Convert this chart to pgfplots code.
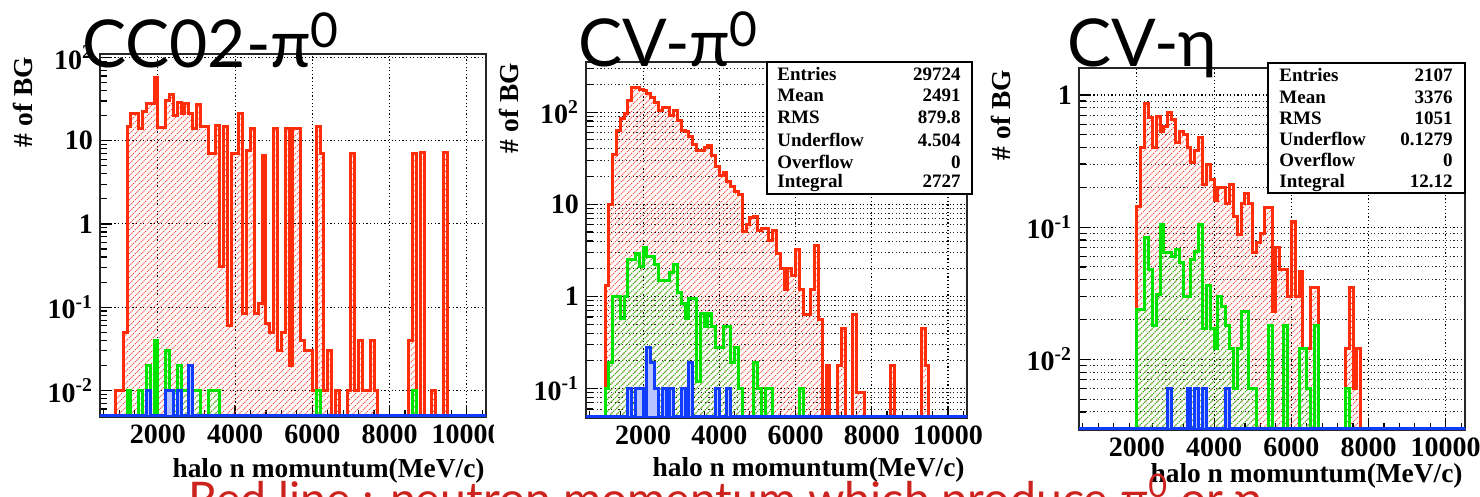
\documentclass[border=0pt]{standalone}
\usepackage{fontspec}
\setmainfont{Liberation Serif}
\newfontfamily\titlefont{Lato}
\usepackage{pgfplots}
\pgfplotsset{compat=1.18}
\usepackage{pgfplotstable}
\usetikzlibrary{patterns.meta}

\definecolor{hred}{RGB}{255,45,10}
\definecolor{hgreen}{RGB}{0,228,0}
\definecolor{hblue}{RGB}{15,60,255}
\definecolor{hatchred}{RGB}{255,70,50}
\definecolor{hatchgreen}{RGB}{20,205,20}
\definecolor{noteRed}{RGB}{205,35,30}

% thin dotted diagonal hatching used for the histogram fills
\tikzdeclarepattern{
  name=dothatch,
  type=uncolored,
  bounding box={(-0.2pt,-0.2pt) and (3.2pt,3.2pt)},
  tile size={(3pt,3pt)},
  code={\draw[line width=0.5pt, dash pattern=on 0.55pt off 0.6pt]
        (-0.2pt,-0.2pt) -- (3.2pt,3.2pt);}
}

% ---------- CC02 - pi0 (empty bins stored at the plot floor 0.005) ----------
\pgfplotstableread{
x y
800 0.005
900 0.01
1100 0.05
1200 15
1300 21
1500 14
1600 22.5
1700 28
1900 58
2000 14.4
2200 30
2300 35.5
2400 20
2500 29
2600 21
2700 28
2800 21
2900 14
3000 27
3100 15
3300 7.1
3500 15.2
3600 0.31
3700 15
3800 0.06
3900 7.1
4100 21
4200 0.083
4300 7.6
4400 14
4500 0.083
4600 0.11
4700 6.7
4800 0.063
4900 0.05
5000 14
5100 0.03
5200 0.05
5300 14
5400 0.02
5500 14
5700 0.04
5800 0.03
6000 0.01
6100 15
6200 7
6300 0.01
6400 0.03
6500 0.005
6600 0.01
6700 0.005
6900 0.01
7000 7
7100 0.01
7200 0.04
7300 0.01
7500 0.04
7600 0.01
7700 0.005
8500 0.04
8600 7
8700 0.005
8800 7.3
8900 0.005
9100 0.01
9200 0.005
9400 7.3
9500 0.005
9600 0.005
}\redA
\pgfplotstableread{
x y
1100 0.005
1200 0.01
1300 0.005
1500 0.01
1600 0.005
1700 0.02
1800 0.005
1900 0.04
2000 0.005
2200 0.03
2300 0.01
2500 0.02
2600 0.01
3100 0.005
3300 0.01
3600 0.005
6100 0.01
6200 0.005
8600 0.01
8700 0.005
8800 0.005
}\greenA
\pgfplotstableread{
x y
500 0.005
1700 0.01
1800 0.005
2200 0.01
2400 0.005
2500 0.01
2600 0.005
2800 0.02
2900 0.005
10500 0.005
}\blueA

% ---------- CV - pi0 (floor 0.05) ----------
\pgfplotstableread{
x y
900 0.05
1000 1.3
1100 10
1200 35
1300 63
1400 85
1500 96
1600 134
1700 187
1900 174
2000 170
2100 158
2200 145
2300 128
2400 104
2500 113
2700 92
2800 104
2900 81
3000 63
3100 62
3200 54
3300 45
3400 38
3600 41
3700 43.5
3800 34
3900 25.5
4000 20.3
4100 22
4200 17.5
4300 15.5
4400 13.7
4500 12.8
4600 5.1
4700 6.0
4800 7.2
4900 7.4
5000 5.2
5100 5.4
5300 4.0
5400 5.2
5500 2.9
5600 2.0
5700 1.2
5800 2.0
5900 1.7
6000 3.2
6100 1.2
6200 0.63
6400 1.2
6500 3.6
6600 0.56
6700 0.05
6800 0.18
6900 0.05
7100 0.18
7200 0.45
7300 0.05
7500 0.63
7600 0.09
7800 0.05
8500 0.18
8600 0.05
9300 0.45
9400 0.18
9500 0.05
9600 0.05
}\redB
\pgfplotstableread{
x y
900 0.05
1000 0.1
1100 0.19
1200 1.0
1400 0.58
1500 1.0
1600 2.5
1800 2.9
1900 2.1
2000 3.4
2100 2.7
2300 2.2
2400 1.5
2700 1.8
2800 2.2
2900 1.1
3000 0.84
3100 0.58
3200 0.95
3400 0.12
3500 0.65
3600 0.47
3700 0.65
3800 0.47
3900 0.28
4100 0.47
4300 0.19
4400 0.28
4500 0.1
4600 0.05
4900 0.19
5000 0.1
5100 0.05
5200 0.1
5400 0.05
6100 0.1
6200 0.05
6300 0.05
}\greenB
\pgfplotstableread{
x y
500 0.05
1600 0.1
1700 0.05
1800 0.1
2000 0.05
2100 0.28
2200 0.19
2300 0.1
2400 0.05
2500 0.1
2600 0.05
2700 0.1
2800 0.05
3000 0.1
3100 0.05
3200 0.19
3300 0.05
3900 0.1
4000 0.05
4200 0.1
4300 0.05
10500 0.05
}\blueB

% ---------- CV - eta (floor 0.003) ----------
\pgfplotstableread{
x y
1900 0.003
2000 0.144
2100 0.40
2200 0.86
2300 0.67
2400 0.40
2500 0.69
2600 0.53
2700 0.58
2800 0.74
2900 0.65
3000 0.44
3100 0.53
3200 0.50
3300 0.40
3400 0.31
3500 0.38
3600 0.48
3700 0.21
3800 0.30
3900 0.23
4000 0.16
4100 0.20
4300 0.15
4400 0.21
4500 0.12
4600 0.088
4700 0.15
4800 0.18
4900 0.15
5000 0.064
5100 0.077
5200 0.09
5300 0.14
5500 0.023
5600 0.07
5700 0.048
5900 0.03
6000 0.11
6100 0.03
6200 0.046
6300 0.012
6500 0.035
6700 0.003
7400 0.012
7500 0.035
7600 0.006
7700 0.012
7800 0.003
7900 0.003
}\redC
\pgfplotstableread{
x y
1900 0.003
2000 0.024
2200 0.083
2300 0.048
2400 0.018
2500 0.031
2600 0.105
2700 0.064
2900 0.06
3000 0.068
3100 0.054
3200 0.03
3400 0.057
3500 0.065
3600 0.105
3700 0.017
3800 0.036
3900 0.017
4000 0.012
4100 0.03
4200 0.025
4300 0.018
4400 0.012
4500 0.006
4600 0.012
4700 0.023
4900 0.006
5100 0.003
5400 0.018
5500 0.003
5800 0.018
5900 0.003
6200 0.012
6400 0.006
6500 0.003
6600 0.018
6700 0.003
7400 0.006
7500 0.003
7600 0.003
}\greenC
\pgfplotstableread{
x y
500 0.003
2800 0.006
2900 0.003
3300 0.006
3400 0.003
3500 0.006
3600 0.003
3700 0.006
3800 0.003
4300 0.006
4400 0.003
10500 0.003
}\blueC

\pgfplotsset{
  histaxis/.style={
    scale only axis, xmin=500, xmax=10500,
    scaled x ticks=false,
    axis line style={black!85, line width=0.8pt},
    tick align=inside, xtick pos=left, ytick pos=left,
    xtick={2000,4000,6000,8000,10000},
    xticklabels={2000,4000,6000,8000,10000},
    minor xtick={600,1000,1400,1800,2400,2800,3200,3600,4400,4800,5200,5600,6400,6800,7200,7600,8400,8800,9200,9600,10400},
    major tick length=6pt, minor tick length=3.5pt,
    tick style={black, line width=0.6pt},
    tick label style={font=\bfseries\fontsize{14}{14}\selectfont},
    xticklabel style={yshift=-0.5pt},
    major grid style={black, line width=0.55pt, dash pattern=on 0.6pt off 1.2pt},
    minor grid style={black!85, line width=0.45pt, dash pattern=on 0.6pt off 1.2pt},
    xmajorgrids, ymajorgrids,
  },
  redhist/.style={const plot, no marks, draw=hred, line width=1.5pt,
    pattern={dothatch}, pattern color=hatchred},
  greenhist/.style={const plot, no marks, draw=hgreen, line width=1.5pt,
    pattern={dothatch}, pattern color=hatchgreen},
  bluehist/.style={const plot, no marks, draw=hblue, line width=1.5pt,
    fill=hblue!30},
}

\newcommand{\statfont}{\bfseries\fontsize{9.5}{9.5}\selectfont}

\begin{document}
\begin{tikzpicture}[x=1pt,y=1pt]
\useasboundingbox (0,0) rectangle (740,248.5);

% ----- panel 1 : CC02 - pi0 -----
\begin{scope}
\clip (0,0) rectangle (246.5,248.5);
\begin{axis}[ymode=log, log origin y=infty, histaxis,
    at={(50pt,40pt)}, anchor=south west,
    width=193pt, height=181.5pt, ymin=0.0048, ymax=110,
    ytick={0.01,0.1,1,10,100},
    yticklabels={10\textsuperscript{-2},10\textsuperscript{-1},1,10,10\textsuperscript{2}},
    minor ytick={0.006,0.007,0.008,0.009,0.02,0.03,0.04,0.05,0.06,0.07,0.08,0.09,0.2,0.3,0.4,0.5,0.6,0.7,0.8,0.9,2,3,4,5,6,7,8,9,20,30,40,50,60,70,80,90}]
  \addplot[redhist] table[x=x,y=y]{\redA} \closedcycle;
  \addplot[greenhist] table[x=x,y=y]{\greenA} \closedcycle;
  \addplot[bluehist] table[x=x,y=y]{\blueA} \closedcycle;
\end{axis}
\end{scope}

% ----- panel 2 : CV - pi0 -----
\begin{axis}[ymode=log, log origin y=infty, histaxis,
    at={(293pt,39.5pt)}, anchor=south west,
    width=190.5pt, height=178pt, ymin=0.048, ymax=350,
    yminorgrids,
    ytick={0.1,1,10,100},
    yticklabels={10\textsuperscript{-1},1,10,10\textsuperscript{2}},
    minor ytick={0.06,0.07,0.08,0.09,0.2,0.3,0.4,0.5,0.6,0.7,0.8,0.9,2,3,4,5,6,7,8,9,20,30,40,50,60,70,80,90,200,300}]
  \addplot[redhist] table[x=x,y=y]{\redB} \closedcycle;
  \addplot[greenhist] table[x=x,y=y]{\greenB} \closedcycle;
  \addplot[bluehist] table[x=x,y=y]{\blueB} \closedcycle;
\end{axis}

% ----- panel 3 : CV - eta -----
\begin{axis}[ymode=log, log origin y=infty, histaxis,
    at={(539.5pt,33.5pt)}, anchor=south west,
    width=193pt, height=181pt, ymin=0.00292, ymax=1.6,
    yminorgrids,
    ytick={0.01,0.1,1},
    yticklabels={10\textsuperscript{-2},10\textsuperscript{-1},1},
    minor ytick={0.004,0.005,0.006,0.007,0.008,0.009,0.02,0.03,0.04,0.05,0.06,0.07,0.08,0.09,0.2,0.3,0.4,0.5,0.6,0.7,0.8,0.9}]
  \addplot[redhist] table[x=x,y=y]{\redC} \closedcycle;
  \addplot[greenhist] table[x=x,y=y]{\greenC} \closedcycle;
  \addplot[bluehist] table[x=x,y=y]{\blueC} \closedcycle;
\end{axis}

% ----- statistics boxes -----
\draw[fill=white, line width=0.7pt] (383.5,151.5) rectangle (486,217.5);
\begin{scope}[every node/.style={inner sep=0pt, font=\statfont}]
  \node[anchor=base west] at (388.5,208)   {Entries};
  \node[anchor=base east] at (480.5,208)   {29724};
  \node[anchor=base west] at (388.5,197.5) {Mean};
  \node[anchor=base east] at (480.5,197.5) {2491};
  \node[anchor=base west] at (388.5,186.5) {RMS};
  \node[anchor=base east] at (480.5,186.5) {879.8};
  \node[anchor=base west] at (388.5,175)   {Underflow};
  \node[anchor=base east] at (480.5,175)   {4.504};
  \node[anchor=base west] at (388.5,164)   {Overflow};
  \node[anchor=base east] at (480.5,164)   {0};
  \node[anchor=base west] at (388.5,154.5) {Integral};
  \node[anchor=base east] at (480.5,154.5) {2727};
\end{scope}
\draw[fill=white, line width=0.7pt] (634,152) rectangle (732.5,217);
\begin{scope}[every node/.style={inner sep=0pt, font=\statfont}]
  \node[anchor=base west] at (639.5,207.5) {Entries};
  \node[anchor=base east] at (726.5,207.5) {2107};
  \node[anchor=base west] at (639.5,196.5) {Mean};
  \node[anchor=base east] at (726.5,196.5) {3376};
  \node[anchor=base west] at (639.5,186)   {RMS};
  \node[anchor=base east] at (726.5,186)   {1051};
  \node[anchor=base west] at (639.5,175.5) {Underflow};
  \node[anchor=base east] at (726.5,175.5) {0.1279};
  \node[anchor=base west] at (639.5,165)   {Overflow};
  \node[anchor=base east] at (726.5,165)   {0};
  \node[anchor=base west] at (639.5,154.5) {Integral};
  \node[anchor=base east] at (726.5,154.5) {12.12};
\end{scope}

% ----- axis titles -----
\begin{scope}[every node/.style={inner sep=0pt, font=\bfseries\fontsize{13.7}{13.7}\selectfont}]
  \node[anchor=base east] at (242.5,9.8) {halo n momuntum(MeV/c)};
  \node[anchor=base east] at (482.5,10.2) {halo n momuntum(MeV/c)};
  \node[anchor=base east] at (731.5,7.2) {halo n momuntum(MeV/c)};
  \node[anchor=base east, rotate=90] at (16,220) {\# of BG};
  \node[anchor=base east, rotate=90] at (259.2,217) {\# of BG};
  \node[anchor=base east, rotate=90] at (505.2,213.5) {\# of BG};
\end{scope}

% ----- panel headings -----
\begin{scope}[every node/.style={inner sep=0pt, font=\titlefont\fontsize{33}{33}\selectfont}]
  \node[anchor=base west] at (41,214.5) {CC02-π\raisebox{10pt}{\fontsize{24}{24}\selectfont 0}};
  \node[anchor=base west] at (289,215) {CV-π\raisebox{10pt}{\fontsize{24}{24}\selectfont 0}};
  \node[anchor=base west] at (533.5,215) {CV-η};
\end{scope}

% ----- note running along the lower edge -----
\node[anchor=base west, inner sep=0pt, text=noteRed,
      font=\titlefont\fontsize{23.2}{23.2}\selectfont] at (94,-9.5)
  {Red line : neutron momentum which produce π\textsuperscript{0} or η};
\end{tikzpicture}
\end{document}
